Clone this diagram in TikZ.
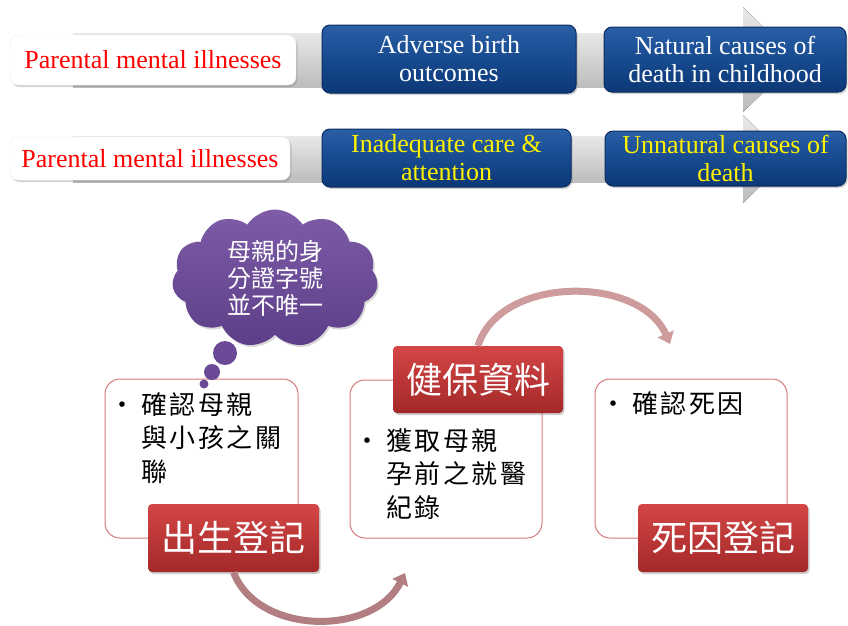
\documentclass[tikz,border=0pt]{standalone}
\usepackage{fontspec}
\setmainfont{Liberation Serif}
\newfontfamily\cjk{Noto Sans CJK TC}
\newfontfamily\cjksp[LetterSpace=10]{Noto Sans CJK TC}
\usetikzlibrary{shapes.symbols,shadows,arrows.meta}
\definecolor{blueA}{HTML}{2A5FA6}
\definecolor{blueM}{HTML}{174A8F}
\definecolor{blueB}{HTML}{0D3877}
\definecolor{blueD}{HTML}{0A2C60}
\definecolor{redA}{HTML}{D44646}
\definecolor{redB}{HTML}{A32828}
\definecolor{cardline}{HTML}{D57A7C}
\definecolor{purA}{HTML}{7E5CA8}
\definecolor{purB}{HTML}{5C3E88}
\definecolor{purC}{HTML}{6A4A96}
\definecolor{arrowA}{HTML}{B27E82}
\definecolor{arrowB}{HTML}{CF9C9E}
\begin{document}
\begin{tikzpicture}[x=1pt,y=-1pt,
  band/.style={top color=gray!18, bottom color=gray!52},
  whitebox/.style={rounded corners=8pt, fill=white, draw=gray!15, inner sep=2pt,
    drop shadow={opacity=0.35, shadow xshift=1.5pt, shadow yshift=-2pt},
    font=\fontsize{26}{28}\selectfont, text=red},
  bluebox/.style={rounded corners=8pt, top color=blueA, bottom color=blueB, middle color=blueM,
    draw=blueD, line width=1pt, inner sep=2pt, align=center,
    drop shadow={opacity=0.35, shadow xshift=1.5pt, shadow yshift=-2pt},
    font=\fontsize{26}{28}\selectfont},
  card/.style={rounded corners=15pt, draw=cardline, line width=1pt, fill=white},
  cardtxt/.style={anchor=north west, inner sep=0pt, align=left,
    font=\cjksp\fontsize{26}{33.5}\selectfont, text=black},
  redlab/.style={rounded corners=4pt, top color=redA, bottom color=redB, text=white,
    drop shadow={opacity=0.4, shadow xshift=1.5pt, shadow yshift=-2pt},
    font=\cjk\fontsize{36}{36}\selectfont, inner sep=0pt},
  bubble/.style={fill=purC},
  curvearrow/.style={line width=7pt, -{Triangle[width=17pt,length=11pt]}}
]
\useasboundingbox (0,0) rectangle (848,625);

% ---------- row 1 ----------
\fill[band] (73,33) rectangle (746,87);
\fill[band] (743,7) -- (797,60) -- (743,112) -- cycle;
\node[whitebox, minimum width=286pt, minimum height=50pt] (w1) at (153,60) {Parental mental illnesses};
\node[bluebox, text=white, minimum width=254pt, minimum height=68pt] (b1) at (449,59) {Adverse birth\\outcomes};
\node[bluebox, text=white, minimum width=242pt, minimum height=65pt] (b2) at (725,59.5) {Natural causes of\\death in childhood};

% ---------- row 2 ----------
\fill[band] (73,136) rectangle (746,182);
\fill[band] (743,115) -- (788,159) -- (743,203) -- cycle;
\node[whitebox, minimum width=280pt, minimum height=43pt] (w2) at (150,158.5) {Parental mental illnesses};
\node[bluebox, text=yellow, minimum width=249pt, minimum height=58pt] (b3) at (446.5,158) {Inadequate care \&\\attention};
\node[bluebox, text=yellow, minimum width=241pt, minimum height=55pt] (b4) at (725.5,158.5) {Unnatural causes of\\death};

% ---------- cards ----------
\node[card, minimum width=193pt, minimum height=159pt] (c1) at (201.5,458.5) {};
\node[card, minimum width=192pt, minimum height=158pt] (c2) at (446,459) {};
\node[card, minimum width=192pt, minimum height=159pt] (c3) at (691,458.5) {};

\node[cardtxt] (t1) at (141,392) {\llap{•\hspace{6pt}}確認母親\\與小孩之關\\聯};
\node[cardtxt] (t2) at (386,428) {\llap{•\hspace{6pt}}獲取母親\\孕前之就醫\\紀錄};
\node[cardtxt] (t3) at (632,391) {\llap{•\hspace{6pt}}確認死因};

% ---------- cloud ----------
\node[cloud, cloud puffs=11, cloud puff arc=115, aspect=1.5, minimum width=206pt, minimum height=138pt,
  top color=purA, bottom color=purB, inner sep=0pt,
  drop shadow={opacity=0.3, shadow xshift=1.5pt, shadow yshift=-2pt},
  text=white, align=center, font=\cjk\fontsize{24}{27}\selectfont] (cloud) at (275,278.5)
  {母親的身\\分證字號\\並不唯一};
\fill[bubble] (225,353) circle (12pt);
\fill[bubble] (212,372) circle (8pt);
\fill[bubble] (204,384) circle (4.5pt);

% ---------- labels ----------
\node[redlab, minimum width=171pt, minimum height=68pt] (l1) at (233.5,538) {出生登記};
\node[redlab, minimum width=170pt, minimum height=67pt] (l2) at (478,379.5) {健保資料};
\node[redlab, minimum width=170pt, minimum height=68pt] (l3) at (723,538) {死因登記};

% ---------- curved arrows ----------
\coordinate (e1) at (405,573);
\coordinate (e2) at (670,344);
\draw[curvearrow, arrowA] (l1.south) .. controls (258,636) and (374,636) .. (e1);
\draw[curvearrow, arrowB] (l2.north) .. controls (500,275) and (640,275) .. (e2);
\end{tikzpicture}
\end{document}
